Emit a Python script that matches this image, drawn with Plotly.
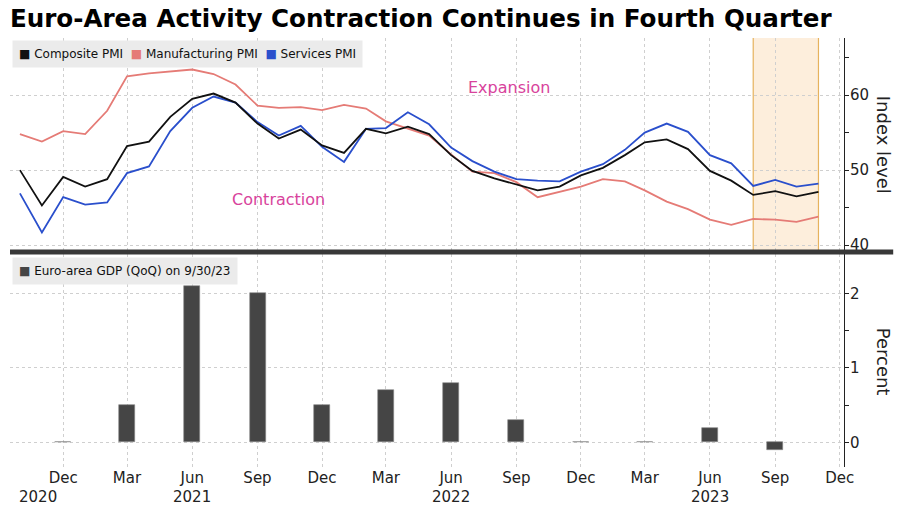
import plotly.graph_objects as go

# ---------------- data ----------------
months = [
    "2020-10-01", "2020-11-01", "2020-12-01",
    "2021-01-01", "2021-02-01", "2021-03-01", "2021-04-01", "2021-05-01", "2021-06-01",
    "2021-07-01", "2021-08-01", "2021-09-01", "2021-10-01", "2021-11-01", "2021-12-01",
    "2022-01-01", "2022-02-01", "2022-03-01", "2022-04-01", "2022-05-01", "2022-06-01",
    "2022-07-01", "2022-08-01", "2022-09-01", "2022-10-01", "2022-11-01", "2022-12-01",
    "2023-01-01", "2023-02-01", "2023-03-01", "2023-04-01", "2023-05-01", "2023-06-01",
    "2023-07-01", "2023-08-01", "2023-09-01", "2023-10-01", "2023-11-01",
]
composite = [50.0, 45.3, 49.1,
             47.8, 48.8, 53.2, 53.8, 57.1, 59.5, 60.2, 59.0, 56.2, 54.2, 55.4, 53.3,
             52.3, 55.5, 54.9, 55.8, 54.8, 52.0, 49.9, 48.9, 48.1, 47.3, 47.8, 49.3,
             50.3, 52.0, 53.7, 54.1, 52.8, 49.9, 48.6, 46.7, 47.2, 46.5, 47.1]
manufacturing = [54.8, 53.8, 55.2,
                 54.8, 57.9, 62.5, 62.9, 63.1, 63.4, 62.8, 61.4, 58.6, 58.3, 58.4, 58.0,
                 58.7, 58.2, 56.5, 55.5, 54.6, 52.1, 49.8, 49.6, 48.4, 46.4, 47.1, 47.8,
                 48.8, 48.5, 47.3, 45.8, 44.8, 43.4, 42.7, 43.5, 43.4, 43.1, 43.8]
services = [46.9, 41.7, 46.4,
            45.4, 45.7, 49.6, 50.5, 55.2, 58.3, 59.8, 59.0, 56.4, 54.6, 55.9, 53.1,
            51.1, 55.5, 55.6, 57.7, 56.1, 53.0, 51.2, 49.8, 48.8, 48.6, 48.5, 49.8,
            50.8, 52.7, 55.0, 56.2, 55.1, 52.0, 50.9, 47.9, 48.7, 47.8, 48.2]

gdp_quarters = ["2020-12-01", "2021-03-01", "2021-06-01", "2021-09-01", "2021-12-01",
                "2022-03-01", "2022-06-01", "2022-09-01", "2022-12-01", "2023-03-01",
                "2023-06-01", "2023-09-01"]
gdp_qoq = [0.0, 0.5, 2.1, 2.0, 0.5, 0.7, 0.8, 0.3, 0.0, 0.0, 0.2, -0.1]

tick_dates = ["2020-12-01", "2021-03-01", "2021-06-01", "2021-09-01", "2021-12-01",
              "2022-03-01", "2022-06-01", "2022-09-01", "2022-12-01", "2023-03-01",
              "2023-06-01", "2023-09-01", "2023-12-01"]
tick_labels = ["Dec", "Mar", "Jun", "Sep", "Dec", "Mar", "Jun", "Sep", "Dec", "Mar",
               "Jun", "Sep", "Dec"]
year_labels = ["2020", "2021", "2022", "2023"]
year_label_dates = ["2020-12-01", "2021-06-01", "2022-06-01", "2023-06-01"]

pmi_ticks = [40, 50, 60]
pmi_minor = [45, 55, 65]
gdp_ticks = [0, 1, 2]
gdp_minor = [0.5, 1.5]

shade_start, shade_end = "2023-08-01", "2023-11-01"

# ---------------- style ----------------
FONT = "DejaVu Sans"
C_COMP = "#111111"
C_MANU = "#e57b76"
C_SERV = "#2a4fcc"
C_BAR = "#454545"
GRID = "#cfcfcf"
PINK = "#d8439c"

fig = go.Figure()
fig.add_trace(go.Scatter(x=months, y=manufacturing, name="Manufacturing PMI", mode="lines",
                         line=dict(color=C_MANU, width=1.8), xaxis="x2", yaxis="y",
                         showlegend=False))
fig.add_trace(go.Scatter(x=months, y=services, name="Services PMI", mode="lines",
                         line=dict(color=C_SERV, width=1.8), xaxis="x2", yaxis="y",
                         showlegend=False))
fig.add_trace(go.Scatter(x=months, y=composite, name="Composite PMI", mode="lines",
                         line=dict(color=C_COMP, width=1.8), xaxis="x2", yaxis="y",
                         showlegend=False))
fig.add_trace(go.Bar(x=gdp_quarters, y=gdp_qoq, name="Euro-area GDP (QoQ) on 9/30/23",
                     width=1.95e9, marker=dict(color=C_BAR, line=dict(color="#888888", width=0.6)),
                     xaxis="x", yaxis="y2", showlegend=False))

xcommon = dict(type="date", range=["2020-09-17", "2023-12-07"], domain=[0, 1],
               tickvals=tick_dates, ticktext=tick_labels,
               showgrid=True, gridcolor=GRID, griddash="dot", gridwidth=1,
               zeroline=False, showline=False, ticks="")

TOP_D = [0.503, 1.0]
BOT_D = [0.0, 0.4965]

yfont = dict(size=15, color="#222222")

fig.update_layout(
    width=900, height=510,
    margin=dict(l=10, r=56, t=38, b=43),
    paper_bgcolor="white", plot_bgcolor="white",
    font=dict(family=FONT, color="#111111"),
    bargap=0,
    title=dict(text="Euro-Area Activity Contraction Continues in Fourth Quarter",
               x=0.011, xanchor="left", xref="container",
               y=0.963, yanchor="middle", yref="container",
               font=dict(family=FONT, size=24.6, color="black", weight="bold")),
    xaxis=dict(**xcommon, anchor="y2", tickfont=dict(size=15, color="#222222")),
    xaxis2=dict(**xcommon, anchor="y", matches="x", showticklabels=False),
    yaxis=dict(domain=TOP_D, anchor="x2", side="right", range=[39.2, 67.6],
               tickvals=pmi_ticks, ticks="outside", ticklen=4, tickcolor="#222222",
               showline=True, linecolor="#222222", linewidth=1,
               showgrid=True, gridcolor=GRID, griddash="dot", zeroline=False,
               ticklabelstandoff=-2,
               minor=dict(tickvals=pmi_minor, ticks="outside", ticklen=4,
                          tickcolor="#222222", showgrid=False),
               tickfont=yfont),
    yaxis2=dict(domain=BOT_D, anchor="x", side="right", range=[-0.33, 2.53],
                tickvals=gdp_ticks, ticks="outside", ticklen=4, tickcolor="#222222",
                showline=True, linecolor="#222222", linewidth=1,
                showgrid=True, gridcolor=GRID, griddash="dot", zeroline=False,
                ticklabelstandoff=-2,
                minor=dict(tickvals=gdp_minor, ticks="outside", ticklen=4,
                           tickcolor="#222222", showgrid=False),
                tickfont=yfont),
)

# shaded fourth-quarter window (top panel)
fig.add_shape(type="rect", xref="x2", yref="y domain", x0=shade_start, x1=shade_end,
              y0=0, y1=1, fillcolor="#fdeedc", line=dict(width=0), layer="below")
for xe in (shade_start, shade_end):
    fig.add_shape(type="line", xref="x2", yref="y domain", x0=xe, x1=xe, y0=0, y1=1,
                  line=dict(color="#e6b25e", width=1.2), layer="below")

# thick separator between panels
fig.add_shape(type="line", xref="paper", yref="paper", x0=0, x1=1.059, y0=0.501, y1=0.501,
              line=dict(color="#383838", width=5))

# legends (boxed)
sq = "\u25a0"
leg1 = (f'<span style="color:{C_COMP}">{sq}</span> Composite PMI  '
        f'<span style="color:{C_MANU}">{sq}</span> Manufacturing PMI  '
        f'<span style="color:{C_SERV}">{sq}</span> Services PMI')
fig.add_annotation(text=leg1, xref="paper", yref="paper", x=0.0025, y=0.995,
                   xanchor="left", yanchor="top", showarrow=False, align="left",
                   bgcolor="#ebebeb", borderpad=6, font=dict(size=12, color="#111111"))
leg2 = f'<span style="color:{C_BAR}">{sq}</span> Euro-area GDP (QoQ) on 9/30/23'
fig.add_annotation(text=leg2, xref="paper", yref="paper", x=0.0025, y=0.4895,
                   xanchor="left", yanchor="top", showarrow=False, align="left",
                   bgcolor="#ebebeb", borderpad=6, font=dict(size=12, color="#111111"))

# region labels
fig.add_annotation(text="Expansion", xref="x2", yref="y", x="2022-08-22", y=61.0,
                   showarrow=False, font=dict(size=16, color=PINK))
fig.add_annotation(text="Contraction", xref="x2", yref="y", x="2021-10-01", y=46.1,
                   showarrow=False, font=dict(size=16, color=PINK))

# year labels
for d, t in zip(year_label_dates, year_labels):
    kw = dict(xanchor="right", xshift=-4) if t == "2020" else dict(xanchor="center")
    fig.add_annotation(text=t, xref="x", yref="paper", x=d, y=-0.07, yanchor="middle",
                       showarrow=False, font=dict(size=15, color="#222222"), **kw)

# axis titles (rotated clockwise)
fig.add_annotation(text="Index level", xref="paper", yref="paper", x=1.047, y=0.7506,
                   xanchor="center", yanchor="middle",
                   textangle=90, showarrow=False, font=dict(size=18, color="#222222"))
fig.add_annotation(text="Percent", xref="paper", yref="paper", x=1.047, y=0.245,
                   xanchor="center", yanchor="middle",
                   textangle=90, showarrow=False, font=dict(size=18, color="#222222"))

fig.write_html("out.html",
               config={"displayModeBar": False},
               post_script="document.body.style.margin='0px';document.body.style.overflow='hidden';")
